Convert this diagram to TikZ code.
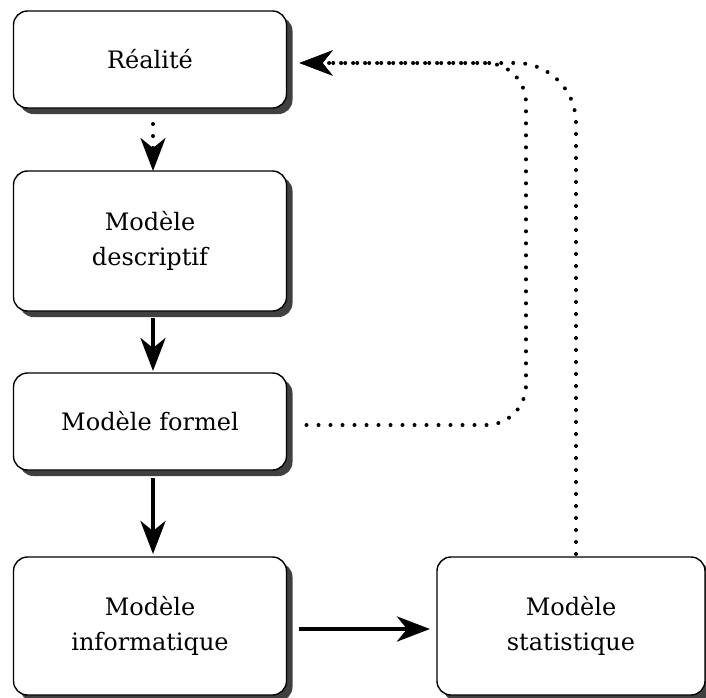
\documentclass[tikz,border=0pt]{standalone}
\IfFileExists{fourier.sty}{\usepackage{fourier}}{\usepackage{fontspec}\setmainfont{DejaVu Serif}}
\usetikzlibrary{arrows.meta,shadows}
\begin{document}
\begin{tikzpicture}[x=1pt,y=-1pt,
  box/.style={draw, line width=1.4pt, rounded corners=14pt, fill=white, align=center,
    font=\fontsize{24}{35}\selectfont, inner sep=0pt, outer sep=0pt,
    drop shadow={shadow xshift=6pt, shadow yshift=-6pt, fill=black!75, opacity=1}},
  conn/.style={line width=4.5pt, -{Stealth[length=33pt,width=25pt,inset=10pt]}},
  dotline/.style={conn, line width=4pt, line cap=round, dash pattern=on 0pt off 12pt}]
\useasboundingbox (0,0) rectangle (706,697);
\node[box, minimum width=273pt, minimum height=97pt] (real) at (150,59.5) {R\'ealit\'e};
\node[box, minimum width=273pt, minimum height=140pt] (desc) at (150,241) {Mod\`ele\\descriptif};
\node[box, minimum width=273pt, minimum height=97pt] (form) at (150,421.5) {Mod\`ele formel};
\node[box, minimum width=273pt, minimum height=138pt] (info) at (150,626) {Mod\`ele\\informatique};
\node[box, minimum width=268pt, minimum height=138pt] (stat) at (571,626) {Mod\`ele\\statistique};
\draw[dotline] ([shift={(3,16)}]real.south) -- ([xshift=3pt]desc.north);
\draw[conn] ([shift={(3,7)}]desc.south) -- ([shift={(3,-2)}]form.north);
\draw[conn] ([shift={(3,8)}]form.south) -- ([shift={(3,-3)}]info.north);
\draw[conn] ([shift={(12,3)}]info.east) -- ([shift={(-7,3)}]stat.west);
\draw[dotline, rounded corners=40pt] ([shift={(20,3.5)}]form.east) -- (526,425) -- (526,63) -- ([shift={(13,3.5)}]real.east);
\draw[dotline, rounded corners=60pt] ([shift={(5,-3)}]stat.north) -- (576,63) -- ([shift={(13,3.5)}]real.east);
\end{tikzpicture}
\end{document}
